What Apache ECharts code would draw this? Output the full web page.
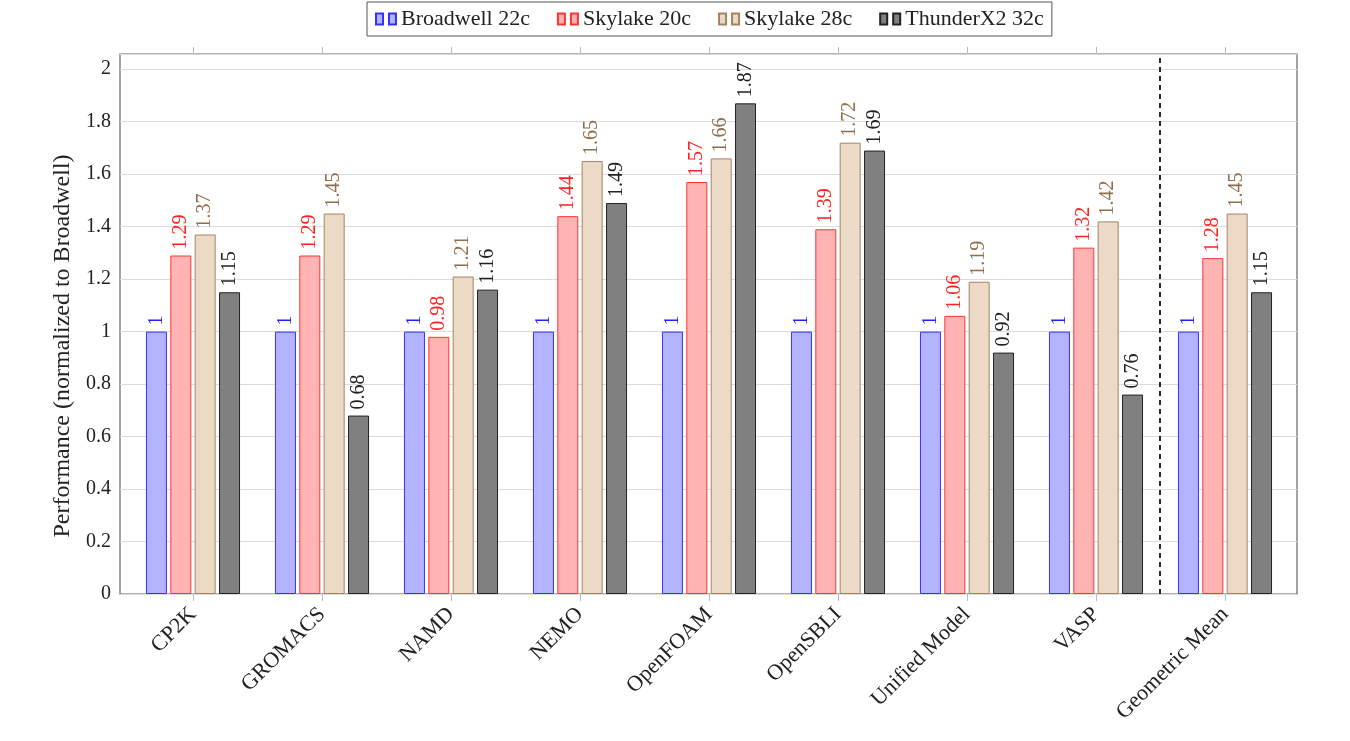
<!DOCTYPE html>
<html>
<head>
<meta charset="utf-8">
<script src="https://cdn.jsdelivr.net/npm/echarts@6/dist/echarts.min.js"></script>
<style>
html,body{margin:0;padding:0;background:#fff;}
#chart{width:1350px;height:741px;}
</style>
</head>
<body>
<div id="chart"></div>
<script>
const categories = ['CP2K','GROMACS','NAMD','NEMO','OpenFOAM','OpenSBLI','Unified Model','VASP','Geometric Mean'];
const broadwell22 = [1, 1, 1, 1, 1, 1, 1, 1, 1];
const skylake20 = [1.29, 1.29, 0.98, 1.44, 1.57, 1.39, 1.06, 1.32, 1.28];
const skylake28 = [1.37, 1.45, 1.21, 1.65, 1.66, 1.72, 1.19, 1.42, 1.45];
const thunderx2 = [1.15, 0.68, 1.16, 1.49, 1.87, 1.69, 0.92, 0.76, 1.15];
const seriesNames = ['Broadwell 22c', 'Skylake 20c', 'Skylake 28c', 'ThunderX2 32c'];
const separatorAt = 7.5; // between VASP and Geometric Mean

const FONT = '"Liberation Serif", "DejaVu Serif", serif';
const YMAX = 2.058;
const XMIN = -0.566, XMAX = 8.566;

const styles = [
  {fill:'#b3b3ff', border:'#3333ff', label:'#2222ff'},
  {fill:'#ffb3b3', border:'#ff3333', label:'#ff2222'},
  {fill:'#ecdac6', border:'#a48462', label:'#8f6f4f'},
  {fill:'#808080', border:'#222222', label:'#222222'}
];
const legendIcon = 'path://M0,0 L7,0 L7,11 L0,11 Z M13,0 L20,0 L20,11 L13,11 Z';

function fmt(v){ return String(+v.toFixed(2)); }

const dataSets = [broadwell22, skylake20, skylake28, thunderx2];
const barSeries = dataSets.map((d, i) => ({
  name: seriesNames[i],
  type: 'bar',
  xAxisIndex: 1,
  yAxisIndex: 1,
  data: d,
  barWidth: 21,
  barGap: '16%',
  itemStyle: {color: styles[i].fill, borderColor: styles[i].border, borderWidth: 1},
  label: {
    show: true,
    position: 'top',
    rotate: 90,
    align: 'left',
    verticalAlign: 'middle',
    distance: 6,
    color: styles[i].label,
    fontFamily: FONT,
    fontSize: 20,
    formatter: p => fmt(p.value)
  },
  emphasis: {disabled: true},
  animation: false
}));

const yLabelFmt = v => (Math.abs(v*5 - Math.round(v*5)) < 1e-6 ? String(+v.toFixed(1)) : '');

const chart = echarts.init(document.getElementById('chart'), null, {renderer:'canvas'});
chart.setOption({
  backgroundColor: '#ffffff',
  animation: false,
  legend: {
    data: seriesNames.map(n => ({name: n, icon: legendIcon})),
    top: 2,
    left: 367,
    itemWidth: 20,
    itemHeight: 11,
    itemGap: 27,
    padding: [6, 8, 6, 8],
    borderColor: '#555',
    borderWidth: 1,
    borderRadius: 0,
    textStyle: {fontFamily: FONT, fontSize: 22, color: '#222'},
    selectedMode: false
  },
  grid: [
    {left: 120, right: 53, top: 54, bottom: 147, show: true, borderColor: '#666', borderWidth: 1.2, backgroundColor: 'transparent', containLabel: false},
    {left: 128.5, right: 60.5, top: 54, bottom: 147, containLabel: false}
  ],
  xAxis: [
    {type: 'value', gridIndex: 0, min: XMIN, max: XMAX, show: false},
    {type: 'category', gridIndex: 1, data: categories, position: 'bottom',
     axisLine: {show: false},
     axisTick: {show: true, alignWithLabel: true, length: 7, lineStyle: {color: '#bbb'}},
     axisLabel: {rotate: 45, interval: 0, margin: 17, fontFamily: FONT, fontSize: 22, color: '#222'}
    },
    {type: 'category', gridIndex: 1, data: categories, position: 'top',
     axisLine: {show: false},
     axisTick: {show: true, alignWithLabel: true, length: 7, lineStyle: {color: '#bbb'}},
     axisLabel: {show: false}
    }
  ],
  yAxis: [
    {type: 'value', gridIndex: 0, min: 0, max: YMAX, interval: 0.2, position: 'left',
     name: 'Performance (normalized to Broadwell)',
     nameLocation: 'middle', nameGap: 42,
     nameTextStyle: {fontFamily: FONT, fontSize: 24, color: '#222', padding: [0, 44, 0, 0]},
     axisLine: {show: false},
     axisTick: {show: false},
     axisLabel: {fontFamily: FONT, fontSize: 20, color: '#222', margin: 9, showMaxLabel: false, formatter: yLabelFmt},
     splitLine: {show: true, lineStyle: {color: '#dcdcdc', width: 1}}
    },
    {type: 'value', gridIndex: 1, min: 0, max: YMAX, show: false, splitLine: {show: false}}
  ],
  series: [
    {
      type: 'line', xAxisIndex: 0, yAxisIndex: 0, data: [], silent: true,
      markLine: {
        silent: true, symbol: ['none','none'], label: {show: false},
        lineStyle: {color: '#111', type: [5, 4], width: 1.8},
        data: [{xAxis: separatorAt}],
        animation: false
      }
    },
    ...barSeries
  ]
});
</script>
</body>
</html>
